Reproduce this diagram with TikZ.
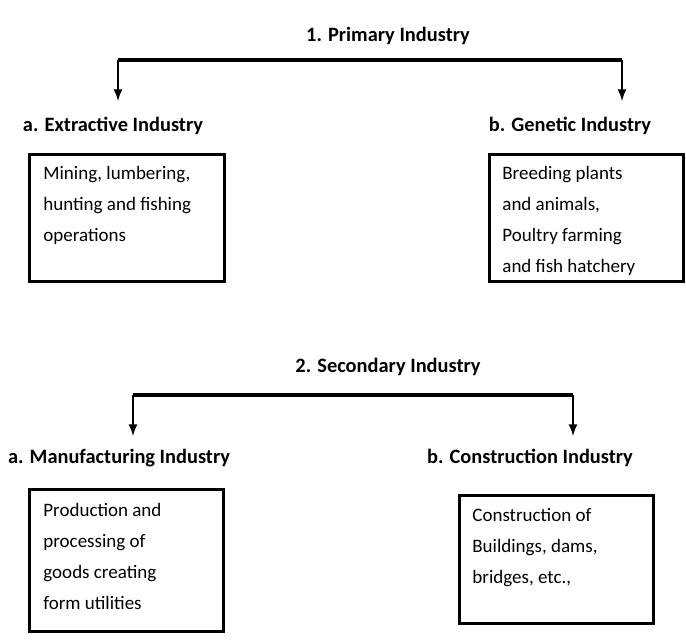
\documentclass[tikz,border=0pt]{standalone}
\usepackage{fontspec}
\setmainfont{Carlito}
\usetikzlibrary{arrows,positioning}

\begin{document}
\begin{tikzpicture}[x=0.5pt, y=-0.5pt,
    head/.style={font=\fontsize{10.2}{12}\selectfont\bfseries, inner sep=1pt},
    box/.style={rectangle, draw, line width=1.3pt, anchor=north west},
    body/.style={anchor=north west, align=left, font=\fontsize{9.5}{15.5}\selectfont, inner sep=0pt},
    wire/.style={line width=1.6pt},
    tip/.style={line width=1pt, -latex}
]
\useasboundingbox (0,0) rectangle (686,640);

% Primary industry
\node[head] (prim) at (388,36) {1. Primary Industry};
\coordinate (pl) at (118,60);
\coordinate (pr) at (622,60);
\node[head] (extr) at (113,126) {a. Extractive Industry};
\node[head] (gene) at (570,126) {b. Genetic Industry};
\draw[wire] (pl) -- (pr);
\draw[tip] (pl) -- (pl |- 0,101);
\draw[tip] (pr) -- (pr |- 0,101);

\node[box, minimum width=195*0.5pt, minimum height=127*0.5pt] (mine) at (28,153) {};
\node[body] (minetxt) at (43,166) {Mining, lumbering,\\hunting and fishing\\operations};
\node[box, minimum width=194*0.5pt, minimum height=127*0.5pt] (breed) at (488,153) {};
\node[body] (breedtxt) at (502,166) {Breeding plants\\and animals,\\Poultry farming\\and fish hatchery};

% Secondary industry
\node[head] (sec) at (388,367) {2. Secondary Industry};
\coordinate (sl) at (133,395);
\coordinate (sr) at (573,395);
\node[head] (manu) at (119,458) {a. Manufacturing Industry};
\node[head] (cons) at (530,458) {b. Construction Industry};
\draw[wire] (sl) -- (sr);
\draw[tip] (sl) -- (sl |- 0,436);
\draw[tip] (sr) -- (sr |- 0,436);

\node[box, minimum width=194*0.5pt, minimum height=142*0.5pt] (prod) at (28,488) {};
\node[body] (prodtxt) at (43,503) {Production and\\processing of\\goods creating\\form utilities};
\node[box, minimum width=194*0.5pt, minimum height=128*0.5pt] (build) at (458,494) {};
\node[body] (buildtxt) at (472,508) {Construction of\\Buildings, dams,\\bridges, etc.,};
\end{tikzpicture}
\end{document}
